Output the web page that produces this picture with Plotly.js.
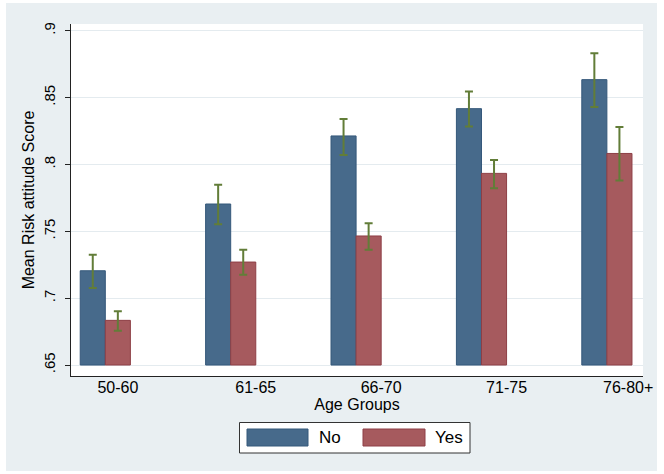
<!DOCTYPE html>
<html>
<head>
<meta charset="utf-8">
<script src="https://cdn.plot.ly/plotly-3.0.1.min.js"></script>
<style>html,body{margin:0;padding:0;background:#fff;}#chart{width:664px;height:474px;}</style>
</head>
<body>
<div id="chart"></div>
<script>
// ---- data ----
var categories = ['50-60', '61-65', '66-70', '71-75', '76-80+'];
var seriesNames = ['No', 'Yes'];
var noMean = [0.7205, 0.7704, 0.8213, 0.8417, 0.8634];
var noHigh = [0.7325, 0.7848, 0.8340, 0.8546, 0.8831];
var noLow  = [0.7076, 0.7552, 0.8070, 0.8284, 0.8429];
var yesMean = [0.6834, 0.7270, 0.7465, 0.7933, 0.8082];
var yesHigh = [0.6902, 0.7362, 0.7560, 0.8034, 0.8280];
var yesLow  = [0.6757, 0.7175, 0.7362, 0.7821, 0.7880];
var yTickVals = [0.65, 0.7, 0.75, 0.8, 0.85, 0.9];
var yTickText = ['.65', '.7', '.75', '.8', '.85', '.9'];

// ---- layout / styling ----
var W = 664, H = 474;
var M = {l: 71, r: 21, t: 24, b: 98};
var PW = W - M.l - M.r, PH = H - M.t - M.b;
function px(x) { return (x - M.l) / PW; }
function py(y) { return (M.t + PH - y) / PH; }

var BASE = 0.65;
var BAR_W = 0.2;
var labelShift = [0.10, 0.20, 0.20, 0.20, 0.17];
var FONT = 'Liberation Sans, Arial, Helvetica, sans-serif';
var colNo = '#476a8b', colNoLine = '#35587a';
var colYes = '#a65a5e', colYesLine = '#8e3f46';
var colErr = '#627d38';

var idx = categories.map(function (c, i) { return i; });
function barTrace(name, mean, hi, lo, offset, fill, line) {
  return {
    type: 'bar', name: name, x: idx,
    y: mean.map(function (v) { return v - BASE; }),
    base: BASE, width: BAR_W, offset: offset,
    marker: {color: fill, line: {color: line, width: 1}},
    error_y: {
      type: 'data', symmetric: false,
      array: hi.map(function (v, i) { return v - mean[i]; }),
      arrayminus: lo.map(function (v, i) { return mean[i] - v; }),
      color: colErr, thickness: 2, width: 4
    },
    showlegend: false, hoverinfo: 'skip'
  };
}
var traces = [
  barTrace(seriesNames[0], noMean, noHigh, noLow, -BAR_W, colNo, colNoLine),
  barTrace(seriesNames[1], yesMean, yesHigh, yesLow, 0, colYes, colYesLine)
];

var bgColor = '#e9eff2';
var shapes = [
  {type: 'rect', xref: 'paper', yref: 'paper', x0: px(0), x1: px(6), y0: py(H), y1: py(0), fillcolor: '#fff', line: {width: 0}},
  {type: 'rect', xref: 'paper', yref: 'paper', x0: px(657), x1: px(W), y0: py(H), y1: py(0), fillcolor: '#fff', line: {width: 0}},
  {type: 'rect', xref: 'paper', yref: 'paper', x0: px(0), x1: px(W), y0: py(3), y1: py(0), fillcolor: '#fff', line: {width: 0}},
  {type: 'rect', xref: 'paper', yref: 'paper', x0: px(0), x1: px(W), y0: py(H), y1: py(471), fillcolor: '#fff', line: {width: 0}},
  {type: 'rect', xref: 'paper', yref: 'paper', x0: px(239.5), x1: px(470), y0: py(453), y1: py(422.5), fillcolor: '#fff', line: {color: '#333', width: 1}},
  {type: 'rect', xref: 'paper', yref: 'paper', x0: px(247), x1: px(308), y0: py(446), y1: py(429), fillcolor: colNo, line: {color: colNoLine, width: 1}},
  {type: 'rect', xref: 'paper', yref: 'paper', x0: px(363), x1: px(425), y0: py(446), y1: py(429), fillcolor: colYes, line: {color: colYesLine, width: 1}}
];
var annotations = [
  {xref: 'paper', yref: 'paper', x: px(317), y: py(437.5), xanchor: 'left', yanchor: 'middle', text: seriesNames[0], showarrow: false, font: {family: FONT, size: 17, color: '#000'}},
  {xref: 'paper', yref: 'paper', x: px(433), y: py(437.5), xanchor: 'left', yanchor: 'middle', text: seriesNames[1], showarrow: false, font: {family: FONT, size: 17, color: '#000'}}
];

var layout = {
  width: W, height: H,
  margin: M,
  paper_bgcolor: bgColor,
  plot_bgcolor: '#ffffff',
  showlegend: false,
  font: {family: FONT, color: '#000'},
  xaxis: {
    range: [-0.2735, 4.288],
    tickvals: idx.map(function (i) { return i + labelShift[i]; }),
    ticktext: categories,
    ticks: '', showgrid: false, zeroline: false,
    showline: true, linecolor: '#222', linewidth: 1,
    tickfont: {family: FONT, size: 16, color: '#000'},
    ticklabelstandoff: -3,
    title: {text: 'Age Groups', font: {family: FONT, size: 16, color: '#000'}, standoff: 0}
  },
  yaxis: {
    range: [0.6418, 0.905],
    tickvals: yTickVals, ticktext: yTickText,
    tickangle: -90,
    ticks: 'outside', ticklen: 5, tickcolor: '#222', tickwidth: 1,
    showgrid: true, gridcolor: '#e4ebef', gridwidth: 1,
    zeroline: false,
    showline: true, linecolor: '#222', linewidth: 1,
    tickfont: {family: FONT, size: 15, color: '#000'},
    ticklabelstandoff: 4,
    title: {text: 'Mean Risk attitude Score', font: {family: FONT, size: 16, color: '#000'}, standoff: 2}
  },
  shapes: shapes,
  annotations: annotations
};

Plotly.newPlot('chart', traces, layout, {displayModeBar: false, staticPlot: true});
</script>
</body>
</html>
